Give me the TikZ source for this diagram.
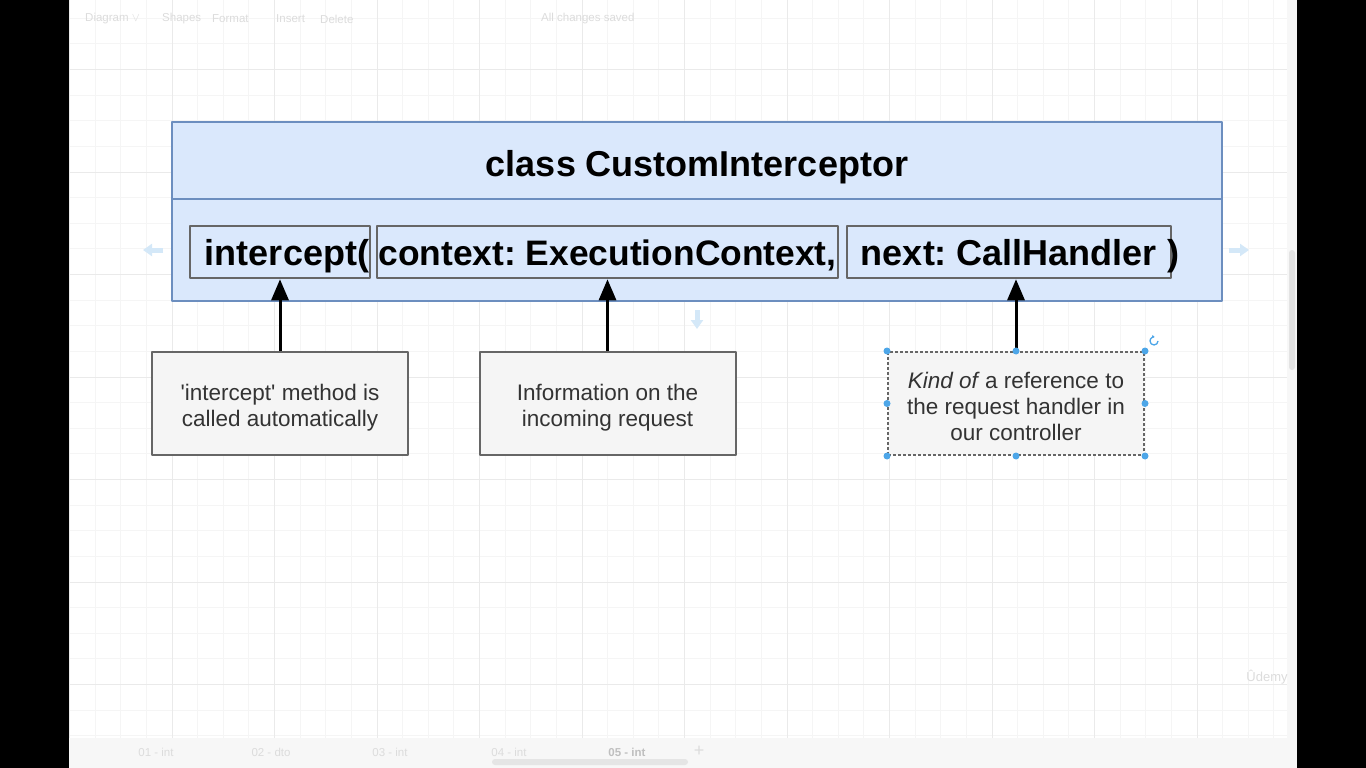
\documentclass[tikz,border=0pt]{standalone}
\usepackage{fontspec}
\newfontfamily\arialfont{Liberation Sans}
\usetikzlibrary{arrows.meta}
\definecolor{classfill}{HTML}{DAE8FC}
\definecolor{classline}{HTML}{6C8EBF}
\definecolor{boxline}{HTML}{666666}
\definecolor{notefill}{HTML}{F5F5F5}
\definecolor{notetext}{HTML}{333333}
\definecolor{gridminor}{HTML}{F5F5F5}
\definecolor{gridmajor}{HTML}{EAEAEA}
\definecolor{handleblue}{HTML}{4DA6E8}
\definecolor{hoverblue}{HTML}{D4E8F8}
\definecolor{uitext}{HTML}{DCDCDC}
\frenchspacing

\begin{document}
\begin{tikzpicture}[x=1pt, y=-1pt, line join=round,
    classbox/.style={draw=classline, fill=classfill, line width=2pt, inner sep=0pt},
    codebox/.style={draw=boxline, line width=2.5pt, minimum height=52pt, inner sep=0pt,
      text height=27pt, text depth=0pt,
      font=\arialfont\bfseries\fontsize{36}{43}\selectfont},
    notebox/.style={draw=boxline, fill=notefill, line width=2pt, minimum width=256pt,
      minimum height=103pt, align=center, text=notetext,
      font=\arialfont\fontsize{22.5}{26}\selectfont},
    pointer/.style={-{Triangle[length=21pt,width=17pt]}, line width=3pt},
    hover/.style={-{Triangle[length=9pt,width=12pt]}, line width=5pt, hoverblue},
    uilabel/.style={text=uitext, font=\arialfont\fontsize{11.5}{13}\selectfont, inner sep=0pt}]
  \useasboundingbox (0,0) rectangle (1366,768);
  % canvas and grid
  \fill[white] (69,0) rectangle (1297,768);
  \foreach \i in {0,...,47}
    \draw[gridminor, line width=1pt] ({69.5+25.625*\i},0) -- ({69.5+25.625*\i},738);
  \foreach \j in {-2,...,26}
    \draw[gridminor, line width=1pt] (69,{69.5+25.625*\j}) -- (1287,{69.5+25.625*\j});
  \foreach \i in {0,4,...,44}
    \draw[gridmajor, line width=1pt] ({69.5+25.625*\i},0) -- ({69.5+25.625*\i},738);
  \foreach \j in {0,4,...,24}
    \draw[gridmajor, line width=1pt] (69,{69.5+25.625*\j}) -- (1287,{69.5+25.625*\j});
  \fill[black] (0,0) rectangle (69,768);
  \fill[black] (1297,0) rectangle (1366,768);
  % editor chrome
  \fill[white!97!black] (1287,0) rectangle (1297,738);
  \fill[white!89!black, rounded corners=3pt] (1289,250) rectangle (1295,370);
  \fill[white!97!black] (69,738) rectangle (1297,768);
  \fill[white!90!black, rounded corners=3pt] (492,759) rectangle (688,765);
  \node[uilabel, anchor=west] (tbdiagram) at (85,19) {Diagram \(\vee\)};
  \node[uilabel, anchor=west] (tbshapes) at (162,19) {Shapes};
  \node[uilabel, anchor=west] (tbformat) at (212,19) {Format};
  \node[uilabel, anchor=west] (tbinsert) at (276,19) {Insert};
  \node[uilabel, anchor=west] (tbdelete) at (320,19) {Delete};
  \node[uilabel, anchor=west] (tbsaved) at (541,19) {All changes saved};
  \node[uilabel] (tabone) at (156,752) {01 - int};
  \node[uilabel] (tabtwo) at (271,752) {02 - dto};
  \node[uilabel] (tabthree) at (390,752) {03 - int};
  \node[uilabel] (tabfour) at (509,752) {04 - int};
  \node[uilabel, text=white!75!black] (tabfive) at (627,752) {\bfseries 05 - int};
  \node[uilabel, font=\arialfont\fontsize{18}{18}\selectfont] (tabplus) at (699,751) {+};
  \node[uilabel, font=\arialfont\fontsize{13}{15}\selectfont] (brand) at (1267,677) {Ûdemy};
  % class box
  \node[classbox, minimum width=1050pt, minimum height=179pt] (cls) at (697,211.5) {};
  \coordinate (divL) at (172,199); \coordinate (divR) at (1222,199);
  \draw[classline, line width=2pt] (divL) -- (divR);
  \node[font=\arialfont\bfseries\fontsize{36}{43}\selectfont, anchor=base] (title) at (697,176) {class CustomInterceptor};
  \node[codebox, minimum width=180pt] (kw) at (280,252) {\hspace*{14pt}intercept(};
  \node[codebox, minimum width=461pt, font=\arialfont\bfseries\fontsize{35.4}{43}\selectfont] (ctx) at (607.5,252) {context: ExecutionContext,};
  \node[codebox, minimum width=324pt] (nxt) at (1009,252) {next: CallHandler};
  \node[font=\arialfont\bfseries\fontsize{36}{43}\selectfont, inner sep=0pt, anchor=base] (paren) at (1173,265.5) {)};
  % hover hints
  \coordinate (hl) at (163,250); \coordinate (hr) at (1229,250); \coordinate (hd) at (697,310);
  \draw[hover] (hl) -- ++(-20,0);
  \draw[hover] (hr) -- ++(20,0);
  \draw[hover] (hd) -- ++(0,19);
  % notes
  \node[notebox] (noteA) at (280,403.5) {\rule{0pt}{25pt}'intercept' method is\\called automatically};
  \node[notebox] (noteB) at (607.5,403.5) {\rule{0pt}{25pt}Information on the\\incoming request};
  \node[notebox, dashed, dash pattern=on 3pt off 2pt] (noteC) at (1016,403.5)
    {\rule{0pt}{23pt}\textit{Kind of\/}\hspace{-1pt} a reference to\\the request handler in\\our controller};
  \draw[pointer] (noteA.north) -- (kw.south);
  \draw[pointer] (noteB.north) -- (ctx.south);
  \draw[pointer] (noteC.north) -- (noteC.north |- nxt.south);
  % selection handles
  \foreach \a in {north west,north,north east,east,south east,south,south west,west}
    \fill[handleblue] (noteC.\a) circle (3.5pt);
  \draw[handleblue, line width=1.3pt, -{Triangle[length=2.5pt,width=3pt]}] (1158,341) arc[start angle=0, end angle=-280, radius=4pt];
\end{tikzpicture}
\end{document}
